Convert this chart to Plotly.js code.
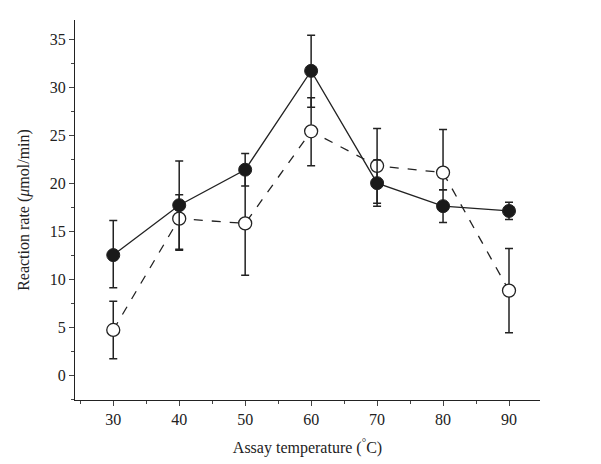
<!DOCTYPE html>
<html>
<head>
<script src="https://cdn.plot.ly/plotly-3.0.1.min.js"></script>
</head>
<body style="margin:0">
<div id="plot" style="width:601px;height:464px"></div>
<script>
var temps = [30, 40, 50, 60, 70, 80, 90];

var filled = [12.5, 17.7, 21.4, 31.7, 20.0, 17.6, 17.1];
var filledUp = [3.6, 4.6, 1.7, 3.7, 2.4, 1.7, 0.9];
var filledDown = [3.4, 4.6, 1.7, 3.8, 2.4, 1.7, 0.9];

var open = [4.7, 16.3, 15.8, 25.4, 21.8, 21.1, 8.8];
var openUp = [3.0, 2.5, 5.4, 3.5, 3.9, 4.5, 4.4];
var openDown = [3.0, 3.3, 5.4, 3.6, 3.9, 1.8, 4.4];

var err = function(up, down){
	return {type: 'data', symmetric: false, array: up, arrayminus: down,
		color: '#222', thickness: 1.5, width: 4};
};

var data = [
	{
		x: temps, y: open, mode: 'lines+markers', type: 'scatter',
		line: {color: '#222', width: 1.3, dash: 'dash'},
		marker: {symbol: 'circle', size: 13, color: 'white', line: {color: '#222', width: 1.3}},
		error_y: err(openUp, openDown)
	},
	{
		x: temps, y: filled, mode: 'lines+markers', type: 'scatter',
		line: {color: '#222', width: 1.3},
		marker: {symbol: 'circle', size: 13, color: '#1a1a1a', line: {color: '#222', width: 1}},
		error_y: err(filledUp, filledDown)
	}
];

var font = {family: 'Liberation Serif, serif', size: 16, color: '#222'};

var layout = {
	width: 601, height: 464,
	margin: {l: 75, r: 61, t: 20, b: 64},
	showlegend: false,
	paper_bgcolor: 'white', plot_bgcolor: 'white',
	font: font,
	xaxis: {
		range: [24.2, 94.7], tickvals: temps, ticks: 'outside', ticklen: 5,
		showgrid: false, zeroline: false, showline: true, linecolor: '#222', linewidth: 1,
		minor: {dtick: 5, ticks: 'outside', ticklen: 3, tick0: 25},
		title: {text: 'Assay temperature (<sup>°</sup>C)', font: font, standoff: 14}
	},
	yaxis: {
		range: [-2.6, 37], dtick: 5, tick0: 0, ticks: 'outside', ticklen: 5,
		showgrid: false, zeroline: false, showline: true, linecolor: '#222', linewidth: 1,
		minor: {dtick: 2.5, ticks: 'outside', ticklen: 3},
		title: {text: 'Reaction rate (<i>μ</i>mol/min)', font: font, standoff: 16}
	}
};

Plotly.newPlot('plot', data, layout, {displayModeBar: false});
</script>
</body>
</html>
